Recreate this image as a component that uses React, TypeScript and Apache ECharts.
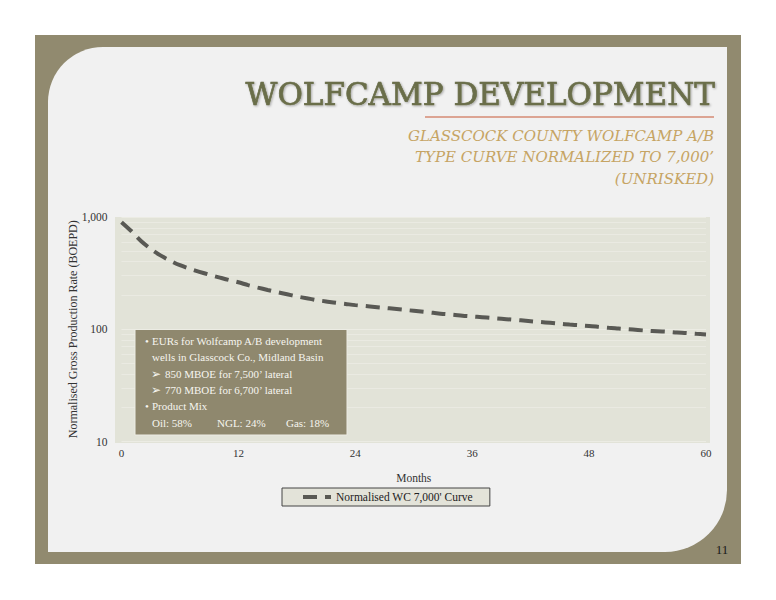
import React, { useEffect, useRef } from "react";
import * as echarts from "echarts";

const months: number[] = [
  0, 1, 2, 3, 4, 5, 6, 7, 8, 9, 10, 11, 12, 13, 14, 15, 16, 17, 18, 19, 20,
  21, 22, 23, 24, 25, 26, 27, 28, 29, 30, 31, 32, 33, 34, 35, 36, 37, 38, 39, 40,
  41, 42, 43, 44, 45, 46, 47, 48, 49, 50, 51, 52, 53, 54, 55, 56, 57, 58, 59, 60,
];
const rates: number[] = [
  900, 750, 610, 520, 455, 408, 372, 346, 325, 306, 290, 275, 262, 247, 235, 224, 214, 205, 196, 189, 182,
  177, 172, 168, 164, 161, 158, 155, 152, 149, 146, 143, 140, 137, 135, 132, 130, 128, 126, 124, 122,
  120, 118, 116, 114, 112, 110, 108.5, 107, 105, 103, 101.5, 100, 98.5, 97, 96, 95, 93.5, 92.5, 91, 90,
];
const minorGridValues: number[] = [20, 30, 40, 50, 60, 70, 80, 90, 200, 300, 400, 500, 600, 700, 800, 900];
const seriesName = "Normalised WC 7,000' Curve";
const titleText = "WOLFCAMP DEVELOPMENT";
const subtitleLines: string[] = [
  "GLASSCOCK COUNTY WOLFCAMP A/B",
  "TYPE CURVE NORMALIZED TO 7,000\u2019",
  "(UNRISKED)",
];
const pageNumber = "11";

const SERIF = "'Liberation Serif', 'DejaVu Serif', serif";
const BOX_TEXT = "#F6F5EE";

export default function App() {
  const ref = useRef<HTMLDivElement>(null);
  useEffect(() => {
    if (!ref.current) return;
    const chart = echarts.init(ref.current, undefined, { renderer: "svg" });
    const boxFont = { fontFamily: SERIF, fontSize: 11, fill: BOX_TEXT, verticalAlign: "middle" as const };
    const t = (x: number, y: number, text: string, size?: number) => ({
      type: "text",
      x,
      y,
      z: 20,
      style: { ...boxFont, text, ...(size ? { fontSize: size } : {}) },
    });
    chart.setOption({
      animation: false,
      backgroundColor: "#FFFFFF",
      graphic: [
        { type: "rect", z: -20, shape: { x: 35, y: 35, width: 706, height: 529 }, style: { fill: "#918A6F" } },
        {
          type: "rect",
          z: -19,
          shape: { x: 48, y: 47, width: 679, height: 505, r: [55, 0, 62, 0] },
          style: { fill: "#F1F1F1" },
        },
        { type: "rect", z: -18, shape: { x: 115, y: 217, width: 595, height: 226 }, style: { fill: "#E2E3D8" } },
        {
          type: "text",
          x: 715,
          y: 94,
          z: 10,
          style: {
            text: titleText,
            fontFamily: "'DejaVu Serif', serif",
            fontSize: 31,
            fill: "#6A6E4A",
            stroke: "#6A6E4A",
            lineWidth: 0.7,
            align: "right",
            verticalAlign: "middle",
            textShadowColor: "rgba(0,0,0,0.3)",
            textShadowBlur: 2,
            textShadowOffsetX: 1,
            textShadowOffsetY: 1,
          },
        },
        {
          type: "line",
          z: 10,
          shape: { x1: 425, y1: 117, x2: 714, y2: 117 },
          style: { stroke: "#D58A73", lineWidth: 1.5 },
        },
        ...subtitleLines.map((s, i) => ({
          type: "text",
          x: 714,
          y: 135.5 + i * 21.5,
          z: 10,
          style: {
            text: s,
            fontFamily: "'DejaVu Serif', serif",
            fontStyle: "italic",
            fontSize: 15,
            fill: "#C6A463",
            align: "right",
            verticalAlign: "middle",
          },
        })),
        {
          type: "text",
          x: 722,
          y: 549,
          z: 10,
          style: {
            text: pageNumber,
            fontFamily: SERIF,
            fontSize: 13,
            fill: "#1A1A1A",
            align: "center",
            verticalAlign: "middle",
          },
        },
        {
          type: "rect",
          z: 19,
          shape: { x: 135, y: 329.5, width: 212, height: 105.5 },
          style: { fill: "#8F886E", stroke: "#ECECE4", lineWidth: 1 },
        },
        t(145, 341, "\u2022"),
        t(152, 341, "EURs for Wolfcamp A/B development"),
        t(152, 357.3, "wells in Glasscock Co., Midland Basin"),
        t(151, 373.6, "\u27A2", 12),
        t(165, 373.6, "850 MBOE for 7,500\u2019 lateral"),
        t(151, 389.9, "\u27A2", 12),
        t(165, 389.9, "770 MBOE for 6,700\u2019 lateral"),
        t(145, 406.2, "\u2022"),
        t(152, 406.2, "Product Mix"),
        t(152, 422.5, "Oil: 58%"),
        t(217, 422.5, "NGL: 24%"),
        t(286, 422.5, "Gas: 18%"),
      ],
      grid: { left: 121.5, right: 70, top: 217, bottom: 158.5, containLabel: false },
      legend: {
        left: 282,
        top: 488,
        itemWidth: 28,
        itemHeight: 10,
        padding: [3, 17, 3, 19],
        backgroundColor: "#E3E3D9",
        borderColor: "#444444",
        borderWidth: 1,
        borderRadius: 0,
        itemStyle: { opacity: 0 },
        lineStyle: { color: "#595954", width: 4, type: [14, 8], cap: "butt" },
        textStyle: { fontFamily: SERIF, fontSize: 11.5, color: "#222222" },
        data: [seriesName],
      },
      xAxis: {
        type: "value",
        min: 0,
        max: 60,
        interval: 12,
        name: "Months",
        nameLocation: "middle",
        nameGap: 30,
        nameMoveOverlap: false,
        nameTextStyle: { fontFamily: SERIF, fontSize: 11.5, color: "#333333" },
        axisLine: { show: false },
        axisTick: { show: false },
        splitLine: { show: false },
        axisLabel: { fontFamily: SERIF, fontSize: 11, color: "#333333", margin: 6 },
      },
      yAxis: {
        type: "log",
        logBase: 10,
        min: 10,
        max: 1000,
        name: "Normalised Gross Production Rate (BOEPD)",
        nameLocation: "middle",
        nameGap: 43,
        nameMoveOverlap: false,
        nameTextStyle: { fontFamily: SERIF, fontSize: 12, color: "#333333" },
        axisLine: { show: false },
        axisTick: { show: false },
        splitLine: { show: true, lineStyle: { color: "#ECECE4", width: 1 } },
        axisLabel: {
          fontFamily: SERIF,
          fontSize: 11.5,
          color: "#333333",
          margin: 14,
          formatter: (v: number) => Math.round(v).toLocaleString("en-US"),
        },
      },
      series: [
        {
          name: seriesName,
          type: "line",
          data: months.map((m, i) => [m, rates[i]]),
          smooth: 0.3,
          showSymbol: false,
          symbol: "none",
          color: "#595954",
          lineStyle: { color: "#595954", width: 4, type: [14, 8], cap: "butt" },
          markLine: {
            silent: true,
            symbol: "none",
            label: { show: false },
            lineStyle: { color: "#EAEAE2", width: 1, type: "solid" },
            data: minorGridValues.map((v) => ({ yAxis: v })),
            z: 1,
          },
        },
      ],
    });
    return () => chart.dispose();
  }, []);
  return <div ref={ref} style={{ position: "fixed", left: 0, top: 0, width: 776, height: 600 }} />;
}
